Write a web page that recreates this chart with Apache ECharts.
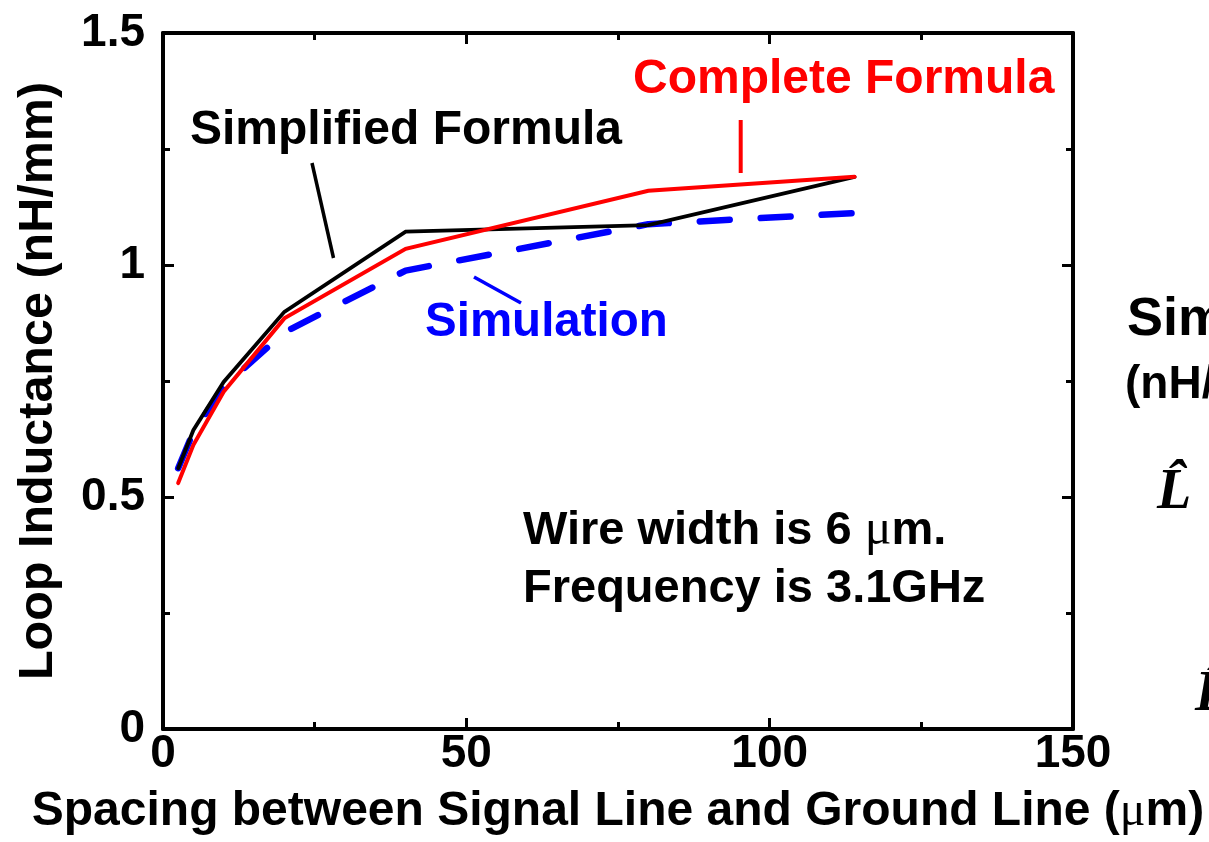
<!DOCTYPE html>
<html>
<head>
<meta charset="utf-8">
<script src="https://cdn.jsdelivr.net/npm/echarts@6/dist/echarts.min.js"></script>
<style>
html,body{margin:0;padding:0;background:#fff;}
#c{width:1209px;height:842px;}
</style>
</head>
<body>
<div id="c"></div>
<script>
// ---- data ----
const spacing = [2.5, 5, 10, 20, 40, 80, 114];
const simplifiedFormula = [0.562, 0.644, 0.748, 0.899, 1.072, 1.086, 1.19];
const completeFormula = [0.530, 0.612, 0.727, 0.885, 1.035, 1.160, 1.19];
const simulation = [0.562, 0.640, 0.738, 0.855, 0.988, 1.088, 1.112];
const xTickLabels = ['0', '50', '100', '150'];
const yTickLabels = ['0', '0.5', '1', '1.5'];

const pair = (xs, ys) => xs.map((x, i) => [x, ys[i]]);
const F = "'Liberation Sans', Arial, sans-serif";
const chart = echarts.init(document.getElementById('c'), null, {renderer: 'canvas'});

const axisCommon = () => ({
  axisLine: {show: true, onZero: false, lineStyle: {color: '#000', width: 4}},
  axisTick: {show: true, inside: true, length: 11, lineStyle: {color: '#000', width: 3}},
  minorTick: {show: true, splitNumber: 2, length: 7, lineStyle: {color: '#000', width: 3}},
  splitLine: {show: false},
  minorSplitLine: {show: false}
});

const option = {
  animation: false,
  backgroundColor: '#fff',
  grid: {left: 163, right: 136, top: 33, bottom: 113, containLabel: false},
  xAxis: [
    Object.assign({
      type: 'value', min: 0, max: 150, interval: 50, position: 'bottom',
      axisLabel: {
        show: true, margin: 2, color: '#000', fontFamily: F, fontWeight: 'bold', fontSize: 46,
        formatter: v => xTickLabels[Math.round(v / 50)]
      },
      name: '{a|Spacing between Signal Line and Ground Line (}{m|μ}{a|m)}',
      nameLocation: 'middle', nameGap: 59,
      nameTextStyle: {
        rich: {
          a: {fontFamily: F, fontWeight: 'bold', fontSize: 48, color: '#000'},
          m: {fontFamily: "'Liberation Serif', serif", fontWeight: 'normal', fontSize: 48, color: '#000'}
        }
      }
    }, axisCommon()),
    Object.assign({
      type: 'value', min: 0, max: 150, interval: 50, position: 'top',
      axisLabel: {show: false}
    }, axisCommon())
  ],
  yAxis: [
    Object.assign({
      type: 'value', min: 0, max: 1.5, interval: 0.5, position: 'left',
      axisLabel: {
        show: true, margin: 18, color: '#000', fontFamily: F, fontWeight: 'bold', fontSize: 46,
        formatter: v => yTickLabels[Math.round(v / 0.5)]
      },
      name: 'Loop Inductance (nH/mm)',
      nameLocation: 'middle', nameGap: 100,
      nameTextStyle: {fontFamily: F, fontWeight: 'bold', fontSize: 48.5, color: '#000'}
    }, axisCommon()),
    Object.assign({
      type: 'value', min: 0, max: 1.5, interval: 0.5, position: 'right',
      axisLabel: {show: false}
    }, axisCommon())
  ],
  series: [
    {
      name: 'Simulation', type: 'line', data: pair(spacing, simulation),
      showSymbol: false, symbol: 'none',
      lineStyle: {color: '#0000ff', width: 6.5, type: [30, 31], cap: 'round', join: 'round'},
      z: 2
    },
    {
      name: 'Simplified Formula', type: 'line', data: pair(spacing, simplifiedFormula),
      showSymbol: false, symbol: 'none',
      lineStyle: {color: '#000', width: 3.8, cap: 'round', join: 'miter'},
      z: 3
    },
    {
      name: 'Complete Formula', type: 'line', data: pair(spacing, completeFormula),
      showSymbol: false, symbol: 'none',
      lineStyle: {color: '#ff0000', width: 4, cap: 'round', join: 'miter'},
      z: 4
    }
  ],
  graphic: [
    // annotations
    {type: 'text', left: 190, top: 107, style: {text: 'Simplified Formula', font: "bold 48px " + F, fill: '#000'}},
    {type: 'line', shape: {x1: 312, y1: 163, x2: 333.5, y2: 258}, style: {stroke: '#000', lineWidth: 3.5}},
    {type: 'text', left: 633, top: 56, style: {text: 'Complete Formula', font: "bold 48px " + F, fill: '#ff0000'}},
    {type: 'line', shape: {x1: 740.7, y1: 120, x2: 740.7, y2: 173}, style: {stroke: '#ff0000', lineWidth: 4}},
    {type: 'text', left: 425, top: 299, style: {text: 'Simulation', font: "bold 47.5px " + F, fill: '#0000ff'}},
    {type: 'line', shape: {x1: 474, y1: 277, x2: 521, y2: 303}, style: {stroke: '#0000ff', lineWidth: 3.5}},
    {type: 'text', left: 523, top: 506, style: {
      text: '{a|Wire width is 6 }{m|μ}{a|m.}',
      rich: {
        a: {font: "bold 47px " + F, fill: '#000'},
        m: {font: "50px 'Liberation Serif', serif", fill: '#000'}
      }
    }},
    {type: 'text', left: 523, top: 566, style: {text: 'Frequency is 3.1GHz', font: "bold 47px " + F, fill: '#000'}},
    // partial neighbouring content at right edge
    {type: 'text', left: 1127, top: 293, style: {text: 'Simplified', font: "bold 54px " + F, fill: '#000'}},
    {type: 'text', left: 1125, top: 362, style: {text: '(nH/mm)', font: "bold 46px " + F, fill: '#000'}},
    {type: 'text', left: 1157, top: 466, style: {text: 'L\u0302', font: "bold italic 56px 'Liberation Serif', serif", fill: '#000'}},
    {type: 'text', left: 1195, top: 668, style: {text: 'L\u0302', font: "bold italic 56px 'Liberation Serif', serif", fill: '#000'}}
  ]
};
chart.setOption(option);
</script>
</body>
</html>
